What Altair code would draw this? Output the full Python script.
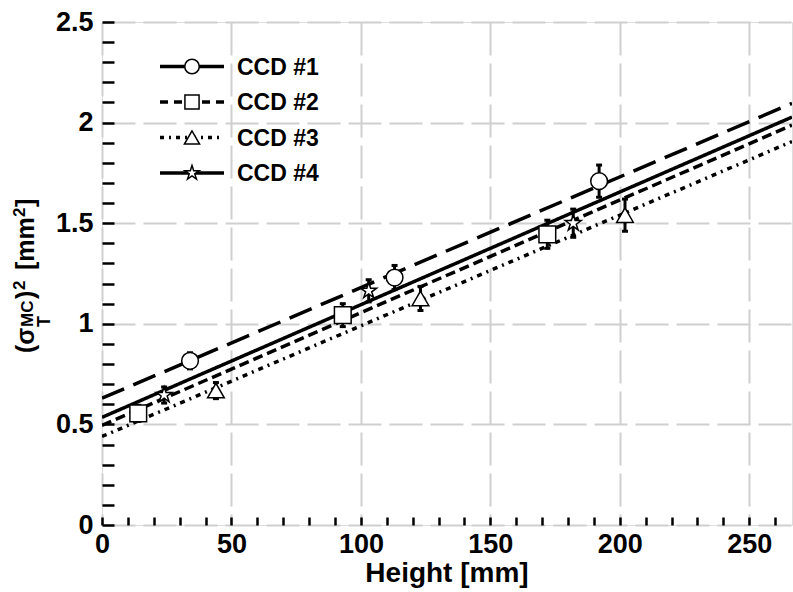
import altair as alt
import pandas as pd

# ---------------- data ----------------
series = ["CCD #1", "CCD #2", "CCD #3", "CCD #4"]

height_1 = [34, 113, 192]
sigma_1 = [0.816, 1.230, 1.709]
err_1 = [0.04, 0.06, 0.08]

height_2 = [14, 93, 172]
sigma_2 = [0.555, 1.043, 1.445]
err_2 = [0.04, 0.057, 0.07]

height_3 = [44, 123, 202]
sigma_3 = [0.668, 1.126, 1.54]
err_3 = [0.04, 0.06, 0.08]

height_4 = [24, 103, 182]
sigma_4 = [0.646, 1.164, 1.50]
err_4 = [0.04, 0.055, 0.07]

fit_intercept = [0.63, 0.495, 0.44, 0.535]
fit_slope = [0.0055, 0.0056, 0.0055, 0.0056]

x_domain = [0, 266.5]
y_domain = [0, 2.5]
x_major = [0, 50, 100, 150, 200, 250]
x_all = list(range(0, 261, 10))
y_major = [0, 0.5, 1, 1.5, 2, 2.5]
y_all = [round(i / 10, 1) for i in range(0, 26)]

# ---------------- tables ----------------
heights = [height_1, height_2, height_3, height_4]
sigmas = [sigma_1, sigma_2, sigma_3, sigma_4]
errs = [err_1, err_2, err_3, err_4]
rows = []
for s, hx, sy, ee in zip(series, heights, sigmas, errs):
    for a, b, c in zip(hx, sy, ee):
        rows.append({"series": s, "x": a, "y": b, "lo": b - c, "hi": b + c})
pts = pd.DataFrame(rows)

fit_rows = []
for s, a, b in zip(series, fit_intercept, fit_slope):
    for xv in x_domain:
        fit_rows.append({"series": s, "x": xv, "y": a + b * xv})
fits = pd.DataFrame(fit_rows)

W, H = 690, 503
FONT = "Liberation Sans"
one = pd.DataFrame({"k": [0]})

xs = alt.Scale(domain=x_domain, nice=False, zero=False)
ys = alt.Scale(domain=y_domain, nice=False, zero=False)

X_TEST = "datum.value % 50 === 0"
Y_TEST = "abs(datum.value * 2 - round(datum.value * 2)) < 0.001"
common = dict(grid=True, gridDash=[33, 8], gridColor="#cfcfcf", gridWidth=2,
              domain=False, labelFont=FONT, labelFontSize=27, labelFontWeight="bold",
              labelColor="black", title=None, labelFlush=False)

# variant A: inward ticks drawn by the axes themselves (minor every 10 / 0.1)
xaxis_a = alt.Axis(values=x_all, ticks=True, tickColor="black", tickWidth=2.5,
                   tickSize={"expr": "-8"}, labelPadding=14,
                   labelExpr="datum.value % 50 === 0 ? datum.label : ''",
                   gridOpacity={"condition": {"test": X_TEST, "value": 1}, "value": 0},
                   **common)
yaxis_a = alt.Axis(values=y_all, ticks=True, tickColor="black", tickWidth=2.5,
                   tickSize={"expr": "-12"}, labelPadding=21, format="~g",
                   labelExpr="abs(datum.value * 2 - round(datum.value * 2)) < 0.001 ? datum.label : ''",
                   gridOpacity={"condition": {"test": Y_TEST, "value": 1}, "value": 0},
                   **common)
# variant B: plain axes
xaxis_b = alt.Axis(values=x_major, ticks=False, labelPadding=6, **common)
yaxis_b = alt.Axis(values=y_major, ticks=False, labelPadding=9, format="~g", **common)

star = ("M0,-1L0.2245,-0.309L0.951,-0.309L0.363,0.118L0.588,0.809L0,0.382"
        "L-0.588,0.809L-0.363,0.118L-0.951,-0.309L-0.2245,-0.309Z")
shape_scale = alt.Scale(domain=series, range=["circle", "square", "triangle-up", star])
dash_scale = alt.Scale(domain=series, range=[[24, 10], [10, 5], [5, 5, 2, 5], [1, 0]])


def txt(t, x, y, size, angle=0, align="left", baseline="alphabetic"):
    return alt.Chart(one).mark_text(text=t, font=FONT, fontSize=size, fontWeight="bold",
                                    color="black", angle=angle, align=align,
                                    baseline=baseline).encode(x=alt.value(x), y=alt.value(y))


def build(xaxis, yaxis):
    def X(f="x"):
        return alt.X(f + ":Q", scale=xs, axis=xaxis, title=None)

    def Y(f="y"):
        return alt.Y(f + ":Q", scale=ys, axis=yaxis, title=None)

    lines = alt.Chart(fits).mark_line(color="black", strokeWidth=3.5, clip=True).encode(
        x=X(), y=Y(), detail="series:N",
        strokeDash=alt.StrokeDash("series:N", scale=dash_scale, legend=None))
    ebars = alt.Chart(pts).mark_rule(color="black", strokeWidth=3).encode(
        x=X(), y=Y("lo"), y2="hi:Q")
    cap_lo = alt.Chart(pts).mark_tick(color="black", orient="horizontal", size=6,
                                      thickness=3, opacity=1).encode(x=X(), y=Y("lo"))
    cap_hi = alt.Chart(pts).mark_tick(color="black", orient="horizontal", size=6,
                                      thickness=3, opacity=1).encode(x=X(), y=Y("hi"))
    markers = alt.Chart(pts).mark_point(fill="white", stroke="black", strokeWidth=1.5,
                                        fillOpacity=1, opacity=1, size=280).encode(
        x=X(), y=Y(), shape=alt.Shape("series:N", scale=shape_scale, legend=None))

    leg_y = [44.5, 80, 115.5, 151]
    leg_dash = [[1, 0], [8, 6], [4, 5, 2, 5], [1, 0]]
    leg_shape = ["circle", "square", "triangle-up", star]
    leg_size = [210, 200, 230, 230]
    legend_layers = []
    for name, yy, dd, sh, sz in zip(series, leg_y, leg_dash, leg_shape, leg_size):
        legend_layers.append(alt.Chart(one).mark_rule(color="black", strokeWidth=3.5,
                                                      strokeDash=dd).encode(
            x=alt.value(58), x2=alt.value(122), y=alt.value(yy)))
        legend_layers.append(alt.Chart(one).mark_point(shape=sh, size=sz, fill="white",
                                                       stroke="black", strokeWidth=1.5,
                                                       fillOpacity=1, opacity=1).encode(
            x=alt.value(90), y=alt.value(yy)))
        legend_layers.append(alt.Chart(one).mark_text(text=name, align="left",
                                                      baseline="middle", font=FONT,
                                                      fontSize=23, fontWeight="bold",
                                                      color="black").encode(
            x=alt.value(135), y=alt.value(yy + 1)))

    title_layers = [
        txt("Height [mm]", W / 2, 560, 28, align="center"),
        txt("(σ", -68, 331, 25, angle=270),
        txt("T", -52, 305, 18, angle=270),
        txt("MC", -69, 305, 17, angle=270),
        txt(")", -68, 277, 25, angle=270),
        txt("2", -77, 268, 17, angle=270),
        txt("[mm", -68, 248, 25, angle=270),
        txt("2", -77, 195, 17, angle=270),
        txt("]", -68, 185, 25, angle=270),
    ]

    return alt.layer(lines, ebars, cap_lo, cap_hi, markers,
                     *legend_layers, *title_layers).properties(
        width=W, height=H, autosize="none",
        padding={"left": 102, "top": 22, "right": 1, "bottom": 67},
    ).configure_view(stroke="black", strokeWidth=3.5).configure(background="white")


chart = None
for xa, ya in [(xaxis_a, yaxis_a), (xaxis_b, yaxis_b)]:
    try:
        candidate = build(xa, ya)
        candidate.to_dict()
        chart = candidate
        break
    except Exception:
        continue

chart.save("out.html", embed_options={"renderer": "svg", "actions": False})
